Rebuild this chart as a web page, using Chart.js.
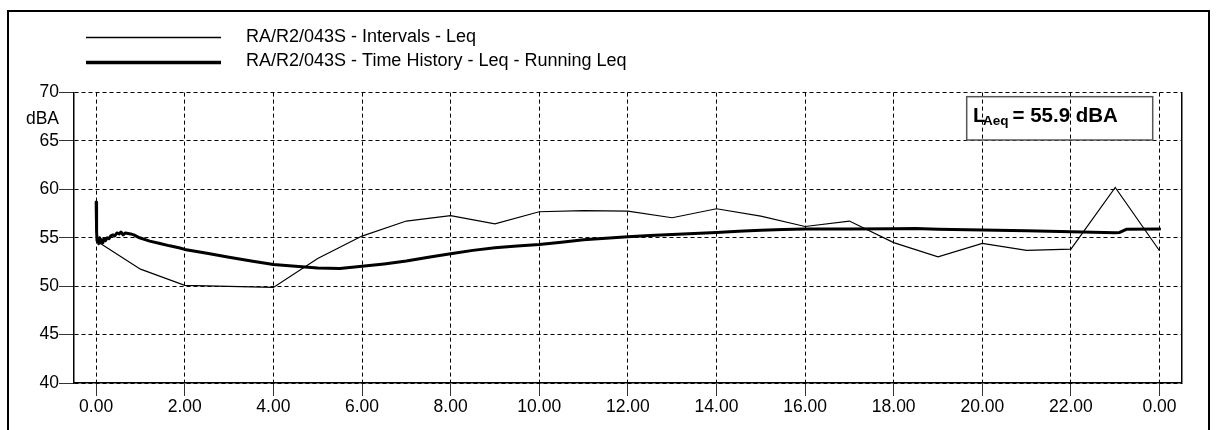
<!DOCTYPE html>
<html>
<head>
<meta charset="utf-8">
<script src="https://cdn.jsdelivr.net/npm/chart.js@4"></script>
<style>
  html, body { margin: 0; padding: 0; background: #fff; overflow: hidden; }
  #wrap { position: relative; width: 1217px; height: 430px; }
  #frame { position: absolute; left: 7px; top: 10px; width: 1199px; height: 500px; border: 2px solid #000; }
  canvas { position: absolute; left: 0; top: 0; }
</style>
</head>
<body>
<div id="wrap">
  <div id="frame"></div>
  <canvas id="leqChart" width="1217" height="430"></canvas>
</div>
<script>
// hourly interval Leq (hours since midnight)
const intervalHours = [0, 1, 2, 3, 4, 5, 6, 7, 8, 9, 10, 11, 12, 13, 14, 15, 16, 17, 18, 19, 20, 21, 22, 23, 24];
const intervalLeq = [54.7, 51.76, 50.08, 49.98, 49.87, 52.87, 55.18, 56.73, 57.28, 56.45, 57.69, 57.8, 57.76,
  57.07, 58.0, 57.24, 56.17, 56.73, 54.5, 53.04, 54.42, 53.7, 53.83, 60.2, 53.66];

// running Leq from the time history
const runningHours = [0, 0.01, 0.02, 0.04, 0.06, 0.08, 0.10, 0.12, 0.15, 0.18, 0.21, 0.25, 0.29, 0.33, 0.38,
  0.42, 0.47, 0.52, 0.56, 0.61, 0.66, 0.72, 0.78, 0.85, 0.98, 1.21, 1.44, 1.66, 1.89, 2.0, 2.5, 3.0, 3.5,
  4.0, 4.5, 5.0, 5.5, 6.0, 6.5, 7.0, 7.5, 8.0, 8.5, 9.0, 9.5, 10.0, 10.5, 11.0, 11.5, 12.0, 12.5, 13.0,
  13.5, 14.0, 14.5, 15.0, 15.5, 16.0, 17.0, 18.0, 18.5, 19.0, 20.0, 21.0, 22.0, 23.0, 23.1, 23.25, 24.0];
const runningLeq = [58.7, 55.6, 54.7, 54.9, 54.4, 55.0, 54.5, 54.8, 54.5, 54.9, 54.7, 55.0, 54.9, 55.2, 55.3,
  55.2, 55.5, 55.4, 55.6, 55.3, 55.5, 55.45, 55.4, 55.3, 55.0, 54.66, 54.42, 54.17, 53.95, 53.8, 53.4, 53.0, 52.6,
  52.25, 52.05, 51.88, 51.84, 52.05, 52.3, 52.6, 53.0, 53.35, 53.7, 53.98, 54.15, 54.3, 54.55, 54.8, 54.95, 55.1, 55.25, 55.35,
  55.45, 55.55, 55.68, 55.78, 55.85, 55.9, 55.9, 55.93, 55.95, 55.88, 55.8, 55.72, 55.63, 55.52, 55.55, 55.88, 55.9];

const xTickValues = [0, 2, 4, 6, 8, 10, 12, 14, 16, 18, 20, 22, 24];
const xTickLabels = ['0.00', '2.00', '4.00', '6.00', '8.00', '10.00', '12.00', '14.00', '16.00', '18.00', '20.00', '22.00', '0.00'];
const laeqValue = 55.9;

const FONT = '"Liberation Sans", Arial, sans-serif';
Chart.defaults.font.family = FONT;
Chart.defaults.color = '#000';

function toPoints(xs, ys) {
  return xs.map((x, i) => ({ x: x, y: ys[i] }));
}

const legendLines = {
  id: 'legendLines',
  afterDraw(chart) {
    const { ctx } = chart;
    const rows = [{ y: 37.5, ty: 37.5 }, { y: 62.5, ty: 61 }];
    ctx.save();
    chart.data.datasets.forEach((ds, i) => {
      const r = rows[i];
      ctx.strokeStyle = ds.borderColor;
      ctx.lineWidth = i === 0 ? 1.5 : 3.5;
      ctx.beginPath();
      ctx.moveTo(86, r.y);
      ctx.lineTo(221, r.y);
      ctx.stroke();
      ctx.fillStyle = '#000';
      ctx.font = '18px ' + FONT;
      ctx.textAlign = 'left';
      ctx.textBaseline = 'middle';
      ctx.fillText(ds.label, 246, r.ty);
    });
    // unit under the top tick
    ctx.font = '17.5px ' + FONT;
    ctx.textAlign = 'right';
    ctx.fillText('dBA', 59, 119.5);
    ctx.restore();
  }
};

const laeqBox = {
  id: 'laeqBox',
  afterDraw(chart) {
    const { ctx } = chart;
    ctx.save();
    ctx.strokeStyle = '#555';
    ctx.lineWidth = 1.5;
    ctx.strokeRect(966.7, 96.7, 186, 43.3);
    ctx.fillStyle = '#000';
    ctx.textAlign = 'left';
    ctx.textBaseline = 'alphabetic';
    ctx.font = 'bold 20.5px ' + FONT;
    ctx.fillText('L', 973, 121.7);
    ctx.font = 'bold 13.5px ' + FONT;
    ctx.fillText('Aeq', 983, 125);
    const subW = ctx.measureText('Aeq').width;
    ctx.font = 'bold 20.5px ' + FONT;
    ctx.fillText('= ' + laeqValue.toFixed(1) + ' dBA', 983 + subW + 4, 121.7);
    ctx.restore();
  }
};

new Chart(document.getElementById('leqChart'), {
  type: 'line',
  data: {
    datasets: [{
      label: 'RA/R2/043S - Intervals - Leq',
      data: toPoints(intervalHours, intervalLeq),
      borderColor: '#000',
      borderWidth: 1.2,
      pointRadius: 0,
      tension: 0
    }, {
      label: 'RA/R2/043S - Time History - Leq - Running Leq',
      data: toPoints(runningHours, runningLeq),
      borderColor: '#000',
      borderWidth: 3,
      borderJoinStyle: 'round',
      borderCapStyle: 'round',
      pointRadius: 0,
      tension: 0
    }]
  },
  options: {
    responsive: false,
    animation: false,
    layout: { padding: { top: 92.6, left: 0, right: 0, bottom: 0 } },
    plugins: {
      legend: { display: false },
      tooltip: { enabled: false }
    },
    scales: {
      x: {
        type: 'linear',
        min: -0.5,
        max: 24.5,
        afterBuildTicks(scale) {
          scale.ticks = xTickValues.map(v => ({ value: v }));
        },
        afterFit(scale) { scale.height = 47; },
        ticks: {
          autoSkip: false,
          maxRotation: 0,
          padding: 1,
          font: { size: 17.5 },
          callback: (value, index) => xTickLabels[index]
        },
        grid: { color: '#000', lineWidth: 1, tickLength: 13, tickColor: '#333', tickWidth: 1 },
        border: { display: true, color: '#000', width: 1.5, dash: [4, 3] }
      },
      y: {
        min: 40,
        max: 70,
        afterFit(scale) { scale.width = 74; },
        ticks: { stepSize: 5, padding: 0, font: { size: 17.5 } },
        grid: { color: '#000', lineWidth: 1, tickLength: 15, tickColor: '#333', tickWidth: 1 },
        border: { display: true, color: '#000', width: 1.5, dash: [4, 3] }
      },
      yRight: {
        position: 'right',
        min: 40,
        max: 70,
        afterFit(scale) { scale.width = 35.3; },
        ticks: { display: false },
        grid: { display: false },
        border: { display: true, color: '#000', width: 1.5 }
      }
    }
  },
  plugins: [legendLines, laeqBox]
});
</script>
</body>
</html>
